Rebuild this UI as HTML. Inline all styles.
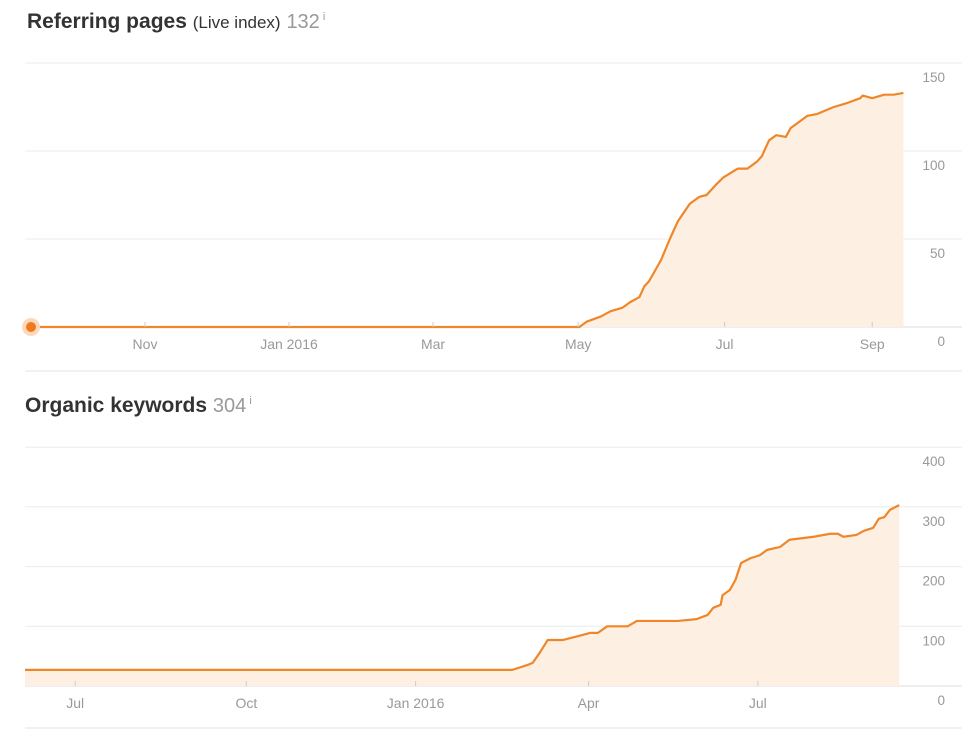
<!DOCTYPE html>
<html><head><meta charset="utf-8"><style>
body{margin:0;background:#fff;width:975px;height:742px;overflow:hidden;font-family:"Liberation Sans",sans-serif}
svg{display:block}
</style></head><body>
<svg id="c" width="975" height="742">
<text x="27" y="28" font-size="21" font-weight="bold" fill="#333">Referring pages <tspan font-size="17" font-weight="normal">(Live index)</tspan> <tspan font-size="20" font-weight="normal" fill="#999">132</tspan><tspan font-size="11" font-weight="normal" fill="#999" dy="-8"> i</tspan></text>
<text x="25" y="412" font-size="21" font-weight="bold" fill="#333">Organic keywords <tspan font-size="20" font-weight="normal" fill="#999">304</tspan><tspan font-size="11" font-weight="normal" fill="#999" dy="-8"> i</tspan></text>
<line x1="25" x2="962" y1="371" y2="371" stroke="#e3e3e3"/>
<line x1="25" x2="962" y1="728" y2="728" stroke="#e3e3e3"/>
</svg>
<script>
// Chart 1: referring pages (days since 2015-09-11)
const rpDays=[0,231,234,240,244,249,252,256,258,260,265,269,272,277,281,284,288,291,297,301,305,307,310,313,317,319,322,326,330,337,342,348,349,353,358,362,366];
const rpVals=[0,0,3,6,9,11,14,17,23,26,38,51,60,70,74,75,81,85,90,90,94,97,106,109,108,113,116,120,121,125,127,130,131.5,130,132,132,133];
const rpTickDays=[50,110,170,230.5,291.5,353];
const rpTickLabels=["Nov","Jan 2016","Mar","May","Jul","Sep"];
const rpYTicks=[0,50,100,150];
// Chart 2: organic keywords (days since 2015-06-04)
const okDays=[0,245,262,270,273,277,281,289,298,304,308,313,324,329,340,351,361,367,370,374,375,379,382,385,390,395,399,406,411,424,433,437,440,447,451,456,459,462,465,470];
const okVals=[27,27,27,35,39,57,77,77,84,89,89,100,100,109,109,109,112,119,131,136,152,161,178,206,214,219,228,233,245,250,255,255,250,253,260,265,280,283,295,303];
const okTickDays=[27,119,210,303,394];
const okTickLabels=["Jul","Oct","Jan 2016","Apr","Jul"];
const okYTicks=[0,100,200,300,400];

const svg=document.getElementById('c');const NS='http://www.w3.org/2000/svg';
function mk(t,a){const e=document.createElementNS(NS,t);for(const k in a)e.setAttribute(k,a[k]);svg.appendChild(e);return e;}
function draw(p,days,vals,tDays,tLabels,yTicks){
  const xs=d=>p.x0+d*p.pxDay, ys=v=>p.base-v*p.pxVal;
  yTicks.forEach(v=>{
    const g=mk('line',{x1:25,x2:962,y1:ys(v),y2:ys(v),stroke:v===0?'#dcdcdc':'#ebebeb'});
    
    
    const t=mk('text',{x:945,y:ys(v)+19,'text-anchor':'end','font-size':13.5,fill:'#999'});
    t.textContent=v;
    
    
  });
  let d='M'+xs(days[0])+','+p.base;
  days.forEach((dd,i)=>d+='L'+xs(dd)+','+ys(vals[i]));
  d+='L'+xs(days[days.length-1])+','+p.base+'Z';
  const a=mk('path',{d:d,fill:'#fdefe2'});
  
  
  const l=mk('polyline',{points:days.map((dd,i)=>xs(dd)+','+ys(vals[i])).join(' '),fill:'none',stroke:'#f0862a','stroke-width':2.2,'stroke-linejoin':'round'});
  
  
  tDays.forEach((td,i)=>{
    const tk=mk('line',{x1:xs(td),x2:xs(td),y1:p.base-5,y2:p.base,stroke:'#ccc'});
    
    
    const t=mk('text',{x:xs(td),y:p.base+22,'text-anchor':'middle','font-size':14,fill:'#999'});
    t.textContent=tLabels[i];
    
    
  });
}
draw({id:'referring-pages',x0:25,pxDay:2.4,base:327,pxVal:88/50},rpDays,rpVals,rpTickDays,rpTickLabels,rpYTicks);
draw({id:'organic-keywords',x0:25,pxDay:1.86,base:686,pxVal:59.7/100},okDays,okVals,okTickDays,okTickLabels,okYTicks);
const h=mk('circle',{cx:31,cy:327,r:9,fill:'#fbd9bd'});


const m=mk('circle',{cx:31,cy:327,r:5,fill:'#f07a1a'});


</script>
</body></html>
